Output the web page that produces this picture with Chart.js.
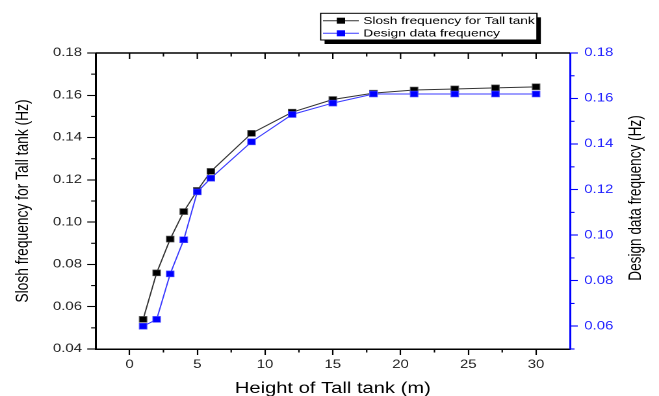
<!DOCTYPE html>
<html>
<head>
<meta charset="utf-8">
<script src="https://cdn.jsdelivr.net/npm/chart.js@4.4.1/dist/chart.umd.min.js"></script>
<style>
  html, body { margin: 0; padding: 0; background: #fff; }
</style>
</head>
<body>
<!-- the original figure is stretched sideways, so the canvas is drawn narrow and widened by css -->
<canvas id="grafica" width="507" height="396" style="width:659px;height:396px;"></canvas>
<script>
const alturas = [1, 2, 3, 4, 5, 6, 9, 12, 15, 18, 21, 24, 27, 30];
const freqSlosh = [0.054, 0.076, 0.092, 0.105, 0.115, 0.124, 0.142, 0.152, 0.158, 0.161, 0.1625, 0.163, 0.1635, 0.164];
const freqDiseno = [0.060, 0.063, 0.083, 0.098, 0.119, 0.125, 0.141, 0.153, 0.158, 0.162, 0.162, 0.162, 0.162, 0.162];

const ticksX = [0, 5, 10, 15, 20, 25, 30];
const ticksIzq = [0.04, 0.06, 0.08, 0.10, 0.12, 0.14, 0.16, 0.18];
const ticksDer = [0.06, 0.08, 0.10, 0.12, 0.14, 0.16, 0.18];

const etiquetaX = "Height of Tall tank (m)";
const etiquetaIzq = "Slosh frequency for Tall tank (Hz)";
const etiquetaDer = "Design data frequency (Hz)";

const fuente = "'Liberation Sans', Arial, sans-serif";
const azul = "#0000ff";

// ticks menores, eje superior, titulos y leyenda
const extras = {
  id: "extras",
  afterDraw(chart) {
    const ctx = chart.ctx;
    const a = chart.chartArea;
    const { x, y, y2 } = chart.scales;
    ctx.save();

    // eje superior con ticks hacia dentro
    ctx.strokeStyle = "#000";
    ctx.lineWidth = 1.5;
    ctx.beginPath();
    ctx.moveTo(a.left, a.top);
    ctx.lineTo(a.right, a.top);
    ctx.stroke();
    ctx.lineWidth = 1.1;
    for (let v = -2.5; v <= 32.5; v += 2.5) {
      const px = x.getPixelForValue(v);
      if (px <= a.left + 1 || px >= a.right - 1) continue;
      const largo = v % 5 === 0 ? 6 : 3.5;
      ctx.beginPath();
      ctx.moveTo(px, a.top);
      ctx.lineTo(px, a.top + largo);
      ctx.stroke();
    }
    // menores abajo
    for (let v = 2.5; v < 32.5; v += 5) {
      const px = x.getPixelForValue(v);
      ctx.beginPath();
      ctx.moveTo(px, a.bottom);
      ctx.lineTo(px, a.bottom + 3.5);
      ctx.stroke();
    }
    // menores izquierda
    for (let v = 0.05; v < 0.18; v += 0.02) {
      const py = y.getPixelForValue(v);
      ctx.beginPath();
      ctx.moveTo(a.left, py);
      ctx.lineTo(a.left - 3.5, py);
      ctx.stroke();
    }
    // menores derecha
    ctx.strokeStyle = azul;
    for (let v = 0.05; v < 0.18; v += 0.02) {
      const py = y2.getPixelForValue(v);
      ctx.beginPath();
      ctx.moveTo(a.right, py);
      ctx.lineTo(a.right + 3.5, py);
      ctx.stroke();
    }

    // titulos de ejes
    ctx.fillStyle = "#000";
    ctx.textAlign = "center";
    ctx.textBaseline = "middle";
    ctx.font = "13.8px " + fuente;
    ctx.save();
    ctx.translate(17.5, (a.top + a.bottom) / 2);
    ctx.rotate(-Math.PI / 2);
    ctx.fillText(etiquetaIzq, 0, 0);
    ctx.restore();
    ctx.font = "13.6px " + fuente;
    ctx.save();
    ctx.translate(489, (a.top + a.bottom) / 2 - 3);
    ctx.rotate(-Math.PI / 2);
    ctx.fillText(etiquetaDer, 0, 0);
    ctx.restore();
    ctx.font = "15.5px " + fuente;
    ctx.textBaseline = "alphabetic";
    ctx.fillText(etiquetaX, (a.left + a.right) / 2, 393);

    // leyenda con sombra
    const bx = 246.7, by = 13.3, bw = 166.4, bh = 26.7;
    ctx.fillStyle = "#000";
    ctx.fillRect(bx + 3, by + 4, bw, bh);
    ctx.fillStyle = "#fff";
    ctx.fillRect(bx, by, bw, bh);
    ctx.lineWidth = 1;
    ctx.strokeStyle = "#000";
    ctx.strokeRect(bx, by, bw, bh);
    ctx.font = "10.5px " + fuente;
    ctx.textAlign = "left";
    ctx.textBaseline = "middle";
    const filas = [20.7, 33.3];
    [0, 1].forEach(i => {
      const ds = chart.data.datasets[i];
      const fy = filas[i];
      ctx.strokeStyle = ds.borderColor;
      ctx.lineWidth = 1;
      ctx.beginPath();
      ctx.moveTo(248.5, fy);
      ctx.lineTo(276, fy);
      ctx.stroke();
      ctx.fillStyle = ds.pointBackgroundColor;
      ctx.fillRect(262.3 - 3.2, fy - 3, 6.4, 6);
      ctx.fillStyle = "#000";
      ctx.fillText(ds.label, 279.5, fy + 0.5);
    });

    ctx.restore();
  }
};

new Chart(document.getElementById("grafica"), {
  type: "line",
  data: {
    datasets: [
      {
        label: "Slosh frequency for Tall tank",
        data: alturas.map((h, i) => ({ x: h, y: freqSlosh[i] })),
        yAxisID: "y",
        order: 1,
        borderColor: "#333333",
        borderWidth: 1,
        pointStyle: "rect",
        pointRadius: 4.2,
        pointBackgroundColor: "#000000",
        pointBorderColor: "#555555",
        pointBorderWidth: 0.6,
        tension: 0
      },
      {
        label: "Design data frequency",
        data: alturas.map((h, i) => ({ x: h, y: freqDiseno[i] })),
        yAxisID: "y2",
        order: 0,
        borderColor: "#3a3aff",
        borderWidth: 1,
        pointStyle: "rect",
        pointRadius: 4.2,
        pointBackgroundColor: azul,
        pointBorderColor: "#4d4dff",
        pointBorderWidth: 0.6,
        tension: 0
      }
    ]
  },
  options: {
    responsive: false,
    devicePixelRatio: 2,
    animation: false,
    layout: { padding: { top: 53, left: 0, right: 0, bottom: 0 } },
    plugins: {
      legend: { display: false },
      tooltip: { enabled: false }
    },
    scales: {
      x: {
        type: "linear",
        min: -2.5,
        max: 32.5,
        afterBuildTicks: s => { s.ticks = ticksX.map(v => ({ value: v })); },
        afterFit: s => { s.height = 47; },
        grid: { drawOnChartArea: false, tickLength: 6, tickColor: "#000", tickWidth: 1.1 },
        border: { color: "#000", width: 1.5 },
        ticks: { color: "#222", padding: 3, maxRotation: 0, font: { family: fuente, size: 11.5 }, callback: v => v }
      },
      y: {
        position: "left",
        min: 0.04,
        max: 0.18,
        afterBuildTicks: s => { s.ticks = ticksIzq.map(v => ({ value: v })); },
        afterFit: s => { s.width = 73.6; },
        grid: { drawOnChartArea: false, tickLength: 6.5, tickColor: "#000", tickWidth: 1.1 },
        border: { color: "#000", width: 1.5 },
        ticks: { color: "#222", padding: 4, font: { family: fuente, size: 11.5 }, callback: v => v.toFixed(2) }
      },
      y2: {
        position: "right",
        min: 0.05,
        max: 0.18,
        afterBuildTicks: s => { s.ticks = ticksDer.map(v => ({ value: v })); },
        afterFit: s => { s.width = 68.5; },
        grid: { drawOnChartArea: false, tickLength: 6, tickColor: azul, tickWidth: 1.1 },
        border: { color: azul, width: 1.5 },
        ticks: { color: "#2020ff", padding: 5, font: { family: fuente, size: 11.5 }, callback: v => v.toFixed(2) }
      }
    }
  },
  plugins: [extras]
});
</script>
</body>
</html>
